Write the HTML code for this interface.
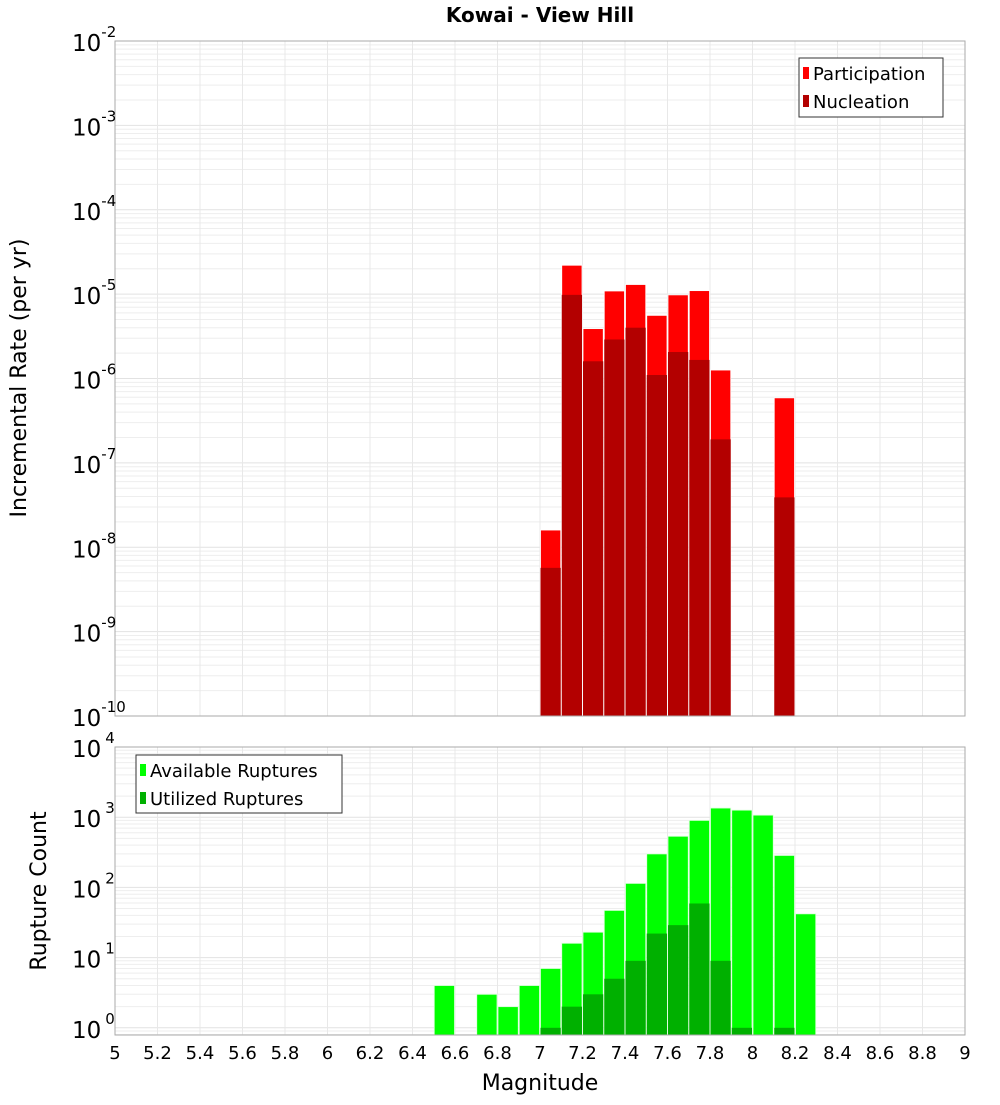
<!DOCTYPE html>
<html><head><meta charset="utf-8"><style>
body{margin:0;background:#fff;font-family:"Liberation Sans","DejaVu Sans",sans-serif}
svg text{font-family:"DejaVu Sans","Liberation Sans",sans-serif}
</style></head><body>
<svg id="c" width="1000" height="1100" xmlns="http://www.w3.org/2000/svg">
<text x="540" y="22" text-anchor="middle" font-size="20" font-weight="bold">Kowai - View Hill</text>
<text transform="translate(26,378) rotate(-90)" text-anchor="middle" font-size="22">Incremental Rate (per yr)</text>
<text transform="translate(46,891) rotate(-90)" text-anchor="middle" font-size="22">Rupture Count</text>
<text x="540" y="1090" text-anchor="middle" font-size="22">Magnitude</text>
</svg>
<script>
const rateBins=[7.0,7.1,7.2,7.3,7.4,7.5,7.6,7.7,7.8,8.1];
const participation=[1.6e-8,2.2e-5,3.9e-6,1.09e-5,1.3e-5,5.6e-6,9.8e-6,1.1e-5,1.26e-6,5.9e-7];
const nucleation=[5.7e-9,9.8e-6,1.6e-6,2.9e-6,4e-6,1.1e-6,2.06e-6,1.66e-6,1.9e-7,3.9e-8];
const countBins=[6.5,6.7,6.8,6.9,7.0,7.1,7.2,7.3,7.4,7.5,7.6,7.7,7.8,7.9,8.0,8.1,8.2];
const available=[4,3,2,4,7,16,23,47,114,300,535,900,1350,1260,1070,285,42];
const utilized=[0,0,0,0,1,2,3,5,9,22,29,59,9,1,0,1,0];
const xTicks=[5,5.2,5.4,5.6,5.8,6,6.2,6.4,6.6,6.8,7,7.2,7.4,7.6,7.8,8,8.2,8.4,8.6,8.8,9];
const topExps=[-2,-3,-4,-5,-6,-7,-8,-9,-10];
const botExps=[4,3,2,1,0];

const svg=document.getElementById('c');const NS='http://www.w3.org/2000/svg';
function el(t,a,p){const e=document.createElementNS(NS,t);for(const k in a)e.setAttribute(k,a[k]);(p||svg).appendChild(e);return e;}
const X0=115,X1=965;
const x=m=>X0+(m-5)/(4)*(X1-X0);
const yT=v=>41+(-2-Math.log10(v))*84.375;
const TB=716;
const yB=v=>747+(4-Math.log10(v))*70.2;
const BB=1035;

function grid(top,bot,yf,lo,hi,g){
  for(let e=lo;e<=hi;e++)for(let k=1;k<10;k++){const v=k*Math.pow(10,e);const yy=yf(v);if(yy<top-0.5||yy>bot+0.5)continue;
    const l=el('line',{x1:X0,x2:X1,y1:yy,y2:yy,stroke:k==1?'#e2e2e2':'#eeeeee','stroke-width':1},g);}
  xTicks.forEach(t=>{const l=el('line',{x1:x(t),x2:x(t),y1:top,y2:bot,stroke:'#e8e8e8'},g);});
}
// top panel
const gt=el('g',{});
grid(41,TB,yT,-10,-3,gt);
rateBins.forEach((b,i)=>{
  const r=el('rect',{x:x(b)+0.5,width:x(b+0.1)-x(b)-1,y:yT(participation[i]),height:TB-yT(participation[i]),fill:'#ff0000',stroke:'#fff','stroke-width':0.8},gt);
  
  const n=el('rect',{x:x(b)+0.5,width:x(b+0.1)-x(b)-1,y:yT(nucleation[i]),height:TB-yT(nucleation[i]),fill:'#b30000'},gt);
  
});
el('rect',{x:X0,y:41,width:X1-X0,height:TB-41,fill:'none',stroke:'#aaa'},gt);
topExps.forEach(e=>{const yy=yT(Math.pow(10,e));const t=el('text',{x:72,y:yy+10,'font-size':23},gt);t.textContent='10';
  
  const s=el('tspan',{dy:-14,'font-size':15},t);s.textContent=String(e);});
// top legend
const lg=el('g',{});
el('rect',{x:799,y:58,width:144,height:59,fill:'#fff',stroke:'#333'},lg);
el('rect',{x:803,y:67,width:6,height:12,fill:'#ff0000'},lg);
el('rect',{x:803,y:95,width:6,height:12,fill:'#b30000'},lg);
let t1=el('text',{x:813,y:80,'font-size':18},lg);t1.textContent='Participation';
let t2=el('text',{x:813,y:108,'font-size':18},lg);t2.textContent='Nucleation';

// bottom panel
const gb=el('g',{});
grid(747,BB,yB,-1,3,gb);
countBins.forEach((b,i)=>{
  const r=el('rect',{x:x(b)+0.5,width:x(b+0.1)-x(b)-1,y:yB(available[i]),height:BB-yB(available[i]),fill:'#00ff00',stroke:'#ddffdd','stroke-width':0.8},gb);
  
  if(utilized[i]>0){const n=el('rect',{x:x(b)+0.5,width:x(b+0.1)-x(b)-1,y:yB(utilized[i]),height:BB-yB(utilized[i]),fill:'#00b000'},gb);
  }
});
el('rect',{x:X0,y:747,width:X1-X0,height:BB-747,fill:'none',stroke:'#aaa'},gb);
botExps.forEach(e=>{const yy=yB(Math.pow(10,e));const t=el('text',{x:72,y:yy+10,'font-size':23},gb);t.textContent='10';
  
  const s=el('tspan',{dx:4,dy:-14,'font-size':15},t);s.textContent=String(e);});
xTicks.forEach(v=>{const t=el('text',{x:x(v),y:1059,'font-size':18,'text-anchor':'middle'},gb);t.textContent=String(v);
  });
const lb=el('g',{});
el('rect',{x:136,y:755,width:206,height:58,fill:'#fff',stroke:'#333'},lb);
el('rect',{x:140,y:764,width:6,height:12,fill:'#00ff00'},lb);
el('rect',{x:140,y:792,width:6,height:12,fill:'#00b000'},lb);
let t3=el('text',{x:150,y:777,'font-size':18},lb);t3.textContent='Available Ruptures';
let t4=el('text',{x:150,y:805,'font-size':18},lb);t4.textContent='Utilized Ruptures';
</script>
</body></html>
